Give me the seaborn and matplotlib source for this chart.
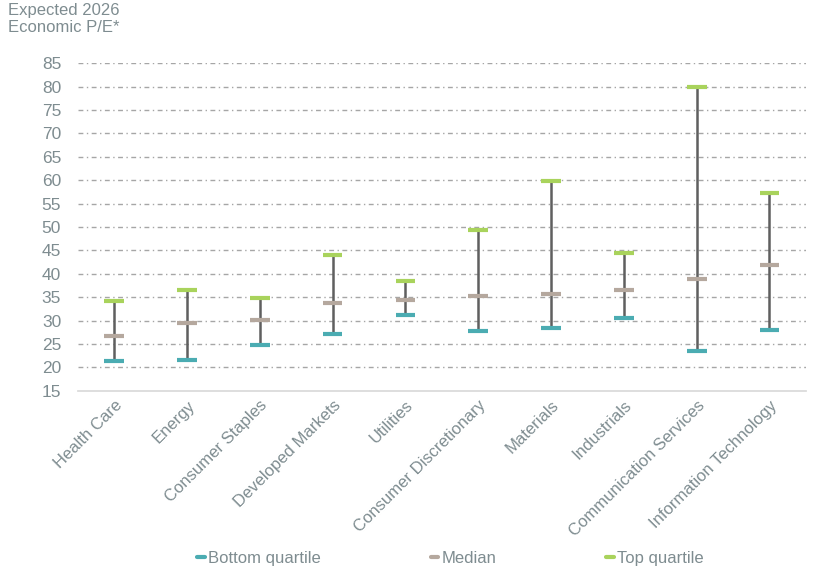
import matplotlib
matplotlib.use("Agg")
import matplotlib.pyplot as plt
from matplotlib.lines import Line2D
import seaborn as sns
import pandas as pd
import numpy as np

# data
sectors = ["Health Care", "Energy", "Consumer Staples", "Developed Markets", "Utilities",
           "Consumer Discretionary", "Materials", "Industrials", "Communication Services",
           "Information Technology"]
bottom_q = [21.4, 21.6, 24.9, 27.2, 31.2, 27.8, 28.4, 30.5, 23.5, 28.0]
median = [26.8, 29.5, 30.1, 33.8, 34.4, 35.3, 35.7, 36.5, 38.8, 41.9]
top_q = [34.2, 36.6, 34.8, 44.1, 38.5, 49.4, 59.9, 44.4, 80.0, 57.2]

series_names = ["Bottom quartile", "Median", "Top quartile"]
colors = ["#4BACB2", "#B5A89E", "#A9D35C"]
text_col = "#7E8C90"

sns.set_theme(style="white")
plt.rcParams["font.family"] = ["Liberation Sans", "DejaVu Sans"]

df = pd.DataFrame({"sector": sectors * 3,
                   "value": bottom_q + median + top_q,
                   "series": sum([[s] * len(sectors) for s in series_names], [])})
df["pos"] = df["sector"].map({s: i for i, s in enumerate(sectors)})

fig = plt.figure(figsize=(8.19, 5.74), dpi=100)
ax = fig.add_axes([0.095, 0.319, 0.889, 0.571])

# grid lines
ax.set_ylim(15, 85)
ax.set_yticks(range(15, 90, 5))
for v in range(20, 90, 5):
    ax.axhline(v, color="#A6A6A6", lw=1.0, ls=(0, (3.5, 2.5, 1, 2.5)), zorder=0)

x = np.arange(len(sectors))
ax.vlines(x, bottom_q, top_q, color="#5F5F5F", lw=1.8, zorder=2)

sns.scatterplot(data=df, x="pos", y="value", hue="series", palette=colors,
                hue_order=series_names, marker="_", s=200, linewidth=3,
                legend=False, ax=ax, zorder=3)

ax.set_xlim(-0.5, len(sectors) - 0.5)
ax.set_xticks(x)
ax.set_xticklabels(sectors, rotation=45, ha="right", rotation_mode="anchor",
                   color=text_col, fontsize=12)
ax.set_xticks(np.arange(-0.5, len(sectors)), minor=True)
ax.tick_params(axis="x", which="major", length=0, pad=5)
ax.tick_params(axis="x", which="minor", length=5, color="#D9D9D9", width=1)
ax.tick_params(axis="y", length=0, labelcolor=text_col, labelsize=12.5, pad=12)
ax.set_xlabel("")
ax.set_ylabel("")
for side in ["top", "right", "left"]:
    ax.spines[side].set_visible(False)
ax.spines["bottom"].set_color("#D9D9D9")

fig.text(0.01, 0.995, "Expected 2026\nEconomic P/E*", ha="left", va="top",
         color=text_col, fontsize=12, linespacing=1.2)

handles = [Line2D([0], [0], color=c, lw=3) for c in colors]
fig.legend(handles, series_names, loc="lower center", bbox_to_anchor=(0.55, -0.012),
           ncol=3, frameon=False, fontsize=12, labelcolor=text_col,
           handlelength=0.45, handletextpad=0.2, columnspacing=6.6)

fig.savefig("out.png", dpi=100)
